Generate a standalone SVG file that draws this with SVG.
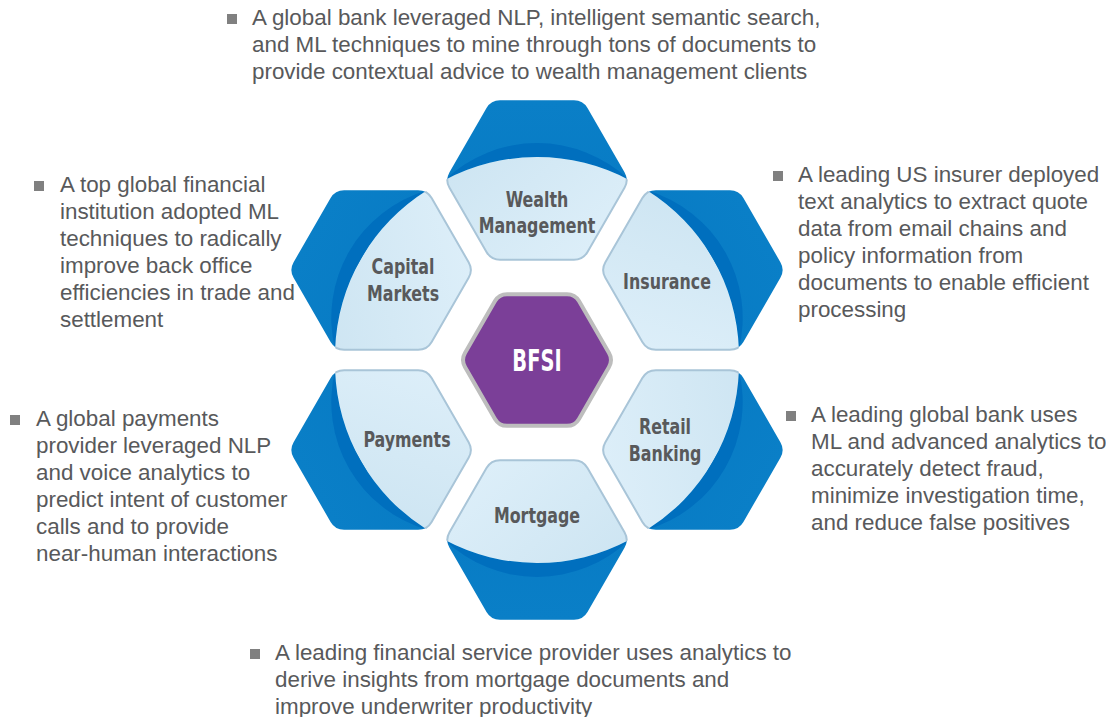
<svg xmlns="http://www.w3.org/2000/svg" xmlns:xlink="http://www.w3.org/1999/xlink" width="1106" height="717" viewBox="0 0 1106 717">
<style>
.body{font-family:"Liberation Sans",Arial,sans-serif;font-size:22.4px;fill:#58595b;}
.lbl{font-family:"DejaVu Sans Condensed","Liberation Sans",sans-serif;font-weight:bold;font-size:21px;fill:#58595b;text-anchor:middle;}
.core{font-family:"DejaVu Sans Condensed","Liberation Sans",sans-serif;font-weight:bold;font-size:30px;fill:#ffffff;text-anchor:middle;}
.bul{fill:#808080;}
</style>
<defs>
<linearGradient id="lg" x1="0" y1="0" x2="1" y2="1">
<stop offset="0" stop-color="#c9e2f0"/>
<stop offset="1" stop-color="#dff0fa"/>
</linearGradient>
<linearGradient id="dg" x1="0" y1="0" x2="0" y2="1">
<stop offset="0" stop-color="#0a7fc7"/>
<stop offset="1" stop-color="#0679c3"/>
</linearGradient>
<path id="hex" d="M37,-79.7 Q46,-79.7 50.5,-71.9 L87.5,-7.8 Q92,0 87.5,7.8 L50.5,71.9 Q46,79.7 37,79.7 L-37,79.7 Q-46,79.7 -50.5,71.9 L-87.5,7.8 Q-92,0 -87.5,-7.8 L-50.5,-71.9 Q-46,-79.7 -37,-79.7 Z"/>
<clipPath id="hexclip"><use xlink:href="#hex"/></clipPath>
<clipPath id="lightclip"><path d="M-92,0 A195.5,195.5 0 0 1 92,0 L105,0 L105,100 L-105,100 L-105,0 Z"/></clipPath>
<g id="seg">
<g transform="translate(0,-180)">
<use xlink:href="#hex" fill="url(#dg)"/>
<path d="M-92,0 A133,133 0 0 1 92,0 A195.5,195.5 0 0 0 -92,0 Z" fill="#006fbe" clip-path="url(#hexclip)"/>
<g clip-path="url(#lightclip)">
<use xlink:href="#hex" fill="url(#lg)" stroke="#a9c5d8" stroke-width="2"/>
</g>
</g>
</g>
</defs>

<g id="connectors"></g>

<g id="node-wealth">
<use xlink:href="#seg" transform="translate(537,360) rotate(0)"/>
<text class="lbl" transform="translate(537,207) scale(0.84,1)">Wealth</text>
<text class="lbl" transform="translate(537,233) scale(0.84,1)">Management</text>
</g>
<g id="node-insurance">
<use xlink:href="#seg" transform="translate(537,360) rotate(60)"/>
<text class="lbl" transform="translate(667,289) scale(0.84,1)">Insurance</text>
</g>
<g id="node-retail">
<use xlink:href="#seg" transform="translate(537,360) rotate(120)"/>
<text class="lbl" transform="translate(665,434) scale(0.84,1)">Retail</text>
<text class="lbl" transform="translate(665,461) scale(0.84,1)">Banking</text>
</g>
<g id="node-mortgage">
<use xlink:href="#seg" transform="translate(537,360) rotate(180)"/>
<text class="lbl" transform="translate(537,523) scale(0.84,1)">Mortgage</text>
</g>
<g id="node-payments">
<use xlink:href="#seg" transform="translate(537,360) rotate(240)"/>
<text class="lbl" transform="translate(407,447) scale(0.84,1)">Payments</text>
</g>
<g id="node-capital">
<use xlink:href="#seg" transform="translate(537,360) rotate(300)"/>
<text class="lbl" transform="translate(403,274) scale(0.84,1)">Capital</text>
<text class="lbl" transform="translate(403,301) scale(0.84,1)">Markets</text>
</g>
<g id="node-bfsi">
<path transform="translate(537,360)" d="M30,-65.8 Q38,-65.8 42,-58.9 L72,-6.9 Q76,0 72,6.9 L42,58.9 Q38,65.8 30,65.8 L-30,65.8 Q-38,65.8 -42,58.9 L-72,6.9 Q-76,0 -72,-6.9 L-42,-58.9 Q-38,-65.8 -30,-65.8 Z" fill="#7b3f98" stroke="#bdbdbd" stroke-width="4"/>
<text class="core" transform="translate(537,371) scale(0.72,1)">BFSI</text>
</g>

<g id="text-wealth">
<rect class="bul" x="227" y="14" width="10" height="10"/>
<text class="body" x="252" y="25">A global bank leveraged NLP, intelligent semantic search,</text>
<text class="body" x="252" y="52">and ML techniques to mine through tons of documents to</text>
<text class="body" x="252" y="79">provide contextual advice to wealth management clients</text>
</g>
<g id="text-capital">
<rect class="bul" x="34" y="181" width="10" height="10"/>
<text class="body" x="60" y="192">A top global financial</text>
<text class="body" x="60" y="219">institution adopted ML</text>
<text class="body" x="60" y="246">techniques to radically</text>
<text class="body" x="60" y="273">improve back office</text>
<text class="body" x="60" y="300">efficiencies in trade and</text>
<text class="body" x="60" y="327">settlement</text>
</g>
<g id="text-insurance">
<rect class="bul" x="773" y="171" width="10" height="10"/>
<text class="body" x="798" y="182">A leading US insurer deployed</text>
<text class="body" x="798" y="209">text analytics to extract quote</text>
<text class="body" x="798" y="236">data from email chains and</text>
<text class="body" x="798" y="263">policy information from</text>
<text class="body" x="798" y="290">documents to enable efficient</text>
<text class="body" x="798" y="317">processing</text>
</g>
<g id="text-payments">
<rect class="bul" x="10" y="415" width="10" height="10"/>
<text class="body" x="36" y="426">A global payments</text>
<text class="body" x="36" y="453">provider leveraged NLP</text>
<text class="body" x="36" y="480">and voice analytics to</text>
<text class="body" x="36" y="507">predict intent of customer</text>
<text class="body" x="36" y="534">calls and to provide</text>
<text class="body" x="36" y="561">near-human interactions</text>
</g>
<g id="text-retail">
<rect class="bul" x="786" y="411" width="10" height="10"/>
<text class="body" x="811" y="422">A leading global bank uses</text>
<text class="body" x="811" y="449">ML and advanced analytics to</text>
<text class="body" x="811" y="476">accurately detect fraud,</text>
<text class="body" x="811" y="503">minimize investigation time,</text>
<text class="body" x="811" y="530">and reduce false positives</text>
</g>
<g id="text-mortgage">
<rect class="bul" x="250" y="649" width="10" height="10"/>
<text class="body" x="275" y="660">A leading financial service provider uses analytics to</text>
<text class="body" x="275" y="687">derive insights from mortgage documents and</text>
<text class="body" x="275" y="714">improve underwriter productivity</text>
</g>
</svg>
